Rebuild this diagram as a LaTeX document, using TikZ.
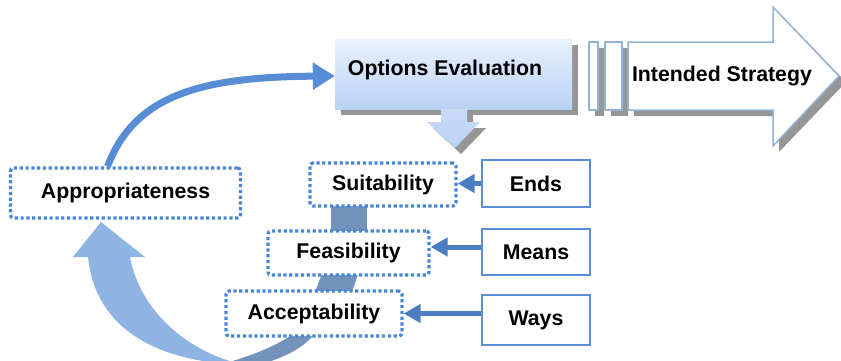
\documentclass[tikz,border=0pt]{standalone}
\usepackage{fontspec}
\setmainfont{Liberation Sans}
\usepackage{tikz}
\usetikzlibrary{positioning, arrows.meta}

\definecolor{dotblue}{RGB}{74,134,214}
\definecolor{boxblue}{RGB}{90,142,214}
\definecolor{arrblue}{RGB}{74,126,192}
\definecolor{curveblue}{RGB}{88,141,214}
\definecolor{lightcurve}{RGB}{142,180,227}
\definecolor{darkband}{RGB}{115,147,189}
\definecolor{outlineblue}{RGB}{149,179,215}
\definecolor{shadowgray}{RGB}{150,150,150}
\definecolor{evaltop}{RGB}{233,241,252}
\definecolor{evalbottom}{RGB}{186,210,245}

\begin{document}
\begin{tikzpicture}[x=1pt, y=-1pt,
    txt/.style={font=\fontsize{21.3}{25}\selectfont\bfseries, inner sep=0pt},
    dotbox/.style={txt, draw=dotblue, line width=3.2pt, dash pattern=on 3.2pt off 2.6pt, rounded corners=3pt, fill=white},
    solidbox/.style={txt, draw=boxblue, line width=1.6pt, fill=white, minimum width=108pt},
    feed/.style={draw=arrblue, line width=5pt, -{Triangle[length=17pt,width=18pt]}},
    outline/.style={draw=outlineblue, line width=1.5pt, fill=white}]
    \useasboundingbox (0,0) rectangle (841,360);

    % big return arrow and the bands behind the stack
    \fill[lightcurve] (101,222) -- (145,257) -- (130,257) .. controls (140,310) and (185,350) .. (240,364)
        -- (228,364) .. controls (150,358) and (95,325) .. (88,257) -- (73,257) -- cycle;
    \fill[darkband] (290,336) -- (313,336) .. controls (300,350) and (282,358) .. (262,364)
        -- (222,364) .. controls (248,357) and (274,347) .. (290,336) -- cycle;
    \fill[darkband] (331,205) rectangle (367,232);
    \fill[darkband] (322,274) -- (358,274) -- (352,292) -- (315,292) -- cycle;

    % options evaluation
    \fill[shadowgray] (341,45) rectangle (578,115);
    \fill[shadowgray] (447,115) -- (473,115) -- (473,128) -- (486,128) -- (461,154) -- (433,128) -- (447,128) -- cycle;
    \node[top color=evaltop, bottom color=evalbottom, minimum width=237pt, minimum height=70pt, inner sep=0pt] (eval) at (453.5,74) {};
    \shade[top color=evalbottom!80!white, bottom color=evalbottom] (441,109) -- (467,109) -- (467,122) -- (480,122) -- (455,148) -- (427,122) -- (441,122) -- cycle;
    \node[txt] (evaltxt) at (445,70) {Options Evaluation};

    % intended strategy
    \fill[shadowgray] (595,48) rectangle (604,116);
    \fill[shadowgray] (611,48) rectangle (628,116);
    \fill[shadowgray] (634,48) -- (779,48) -- (779,13) -- (846,82) -- (779,152) -- (779,116) -- (634,116) -- cycle;
    \draw[outline] (589,42) rectangle (598,110);
    \draw[outline] (605,42) rectangle (622,110);
    \draw[outline] (628,42) -- (773,42) -- (773,7) -- (839,76) -- (773,146) -- (773,110) -- (628,110) -- cycle;
    \node[txt] (strat) at (722,76) {Intended Strategy};

    % criteria
    \node[dotbox, minimum width=230pt, minimum height=50pt] (appr) at (125.5,193) {Appropriateness};
    \node[dotbox, minimum width=146pt, minimum height=43pt] (suit) at (383,184.5) {Suitability};
    \node[dotbox, minimum width=161pt, minimum height=44pt] (feas) at (348.5,253) {Feasibility};
    \node[dotbox, minimum width=176pt, minimum height=45pt] (acc) at (314,313.5) {Acceptability};

    \node[solidbox, minimum height=47pt] (ends) at (536,183.5) {Ends};
    \node[solidbox, minimum height=46pt] (means) at (536,252) {Means};
    \node[solidbox, minimum height=50pt] (ways) at (536,320) {Ways};

    \draw[feed] (ends.west) -- (ends.west -| suit.east);
    \draw[feed] ([yshift=5pt]means.west) -- ([yshift=5pt]means.west -| feas.east);
    \draw[feed] (ways.west |- acc.east) -- (acc.east);

    \draw[curveblue, line width=7pt, -{Triangle[length=22pt,width=26pt]}]
        ([xshift=-18pt]appr.north) .. controls (135,95) and (200,77) .. ([yshift=-2pt]eval.west);
\end{tikzpicture}
\end{document}
